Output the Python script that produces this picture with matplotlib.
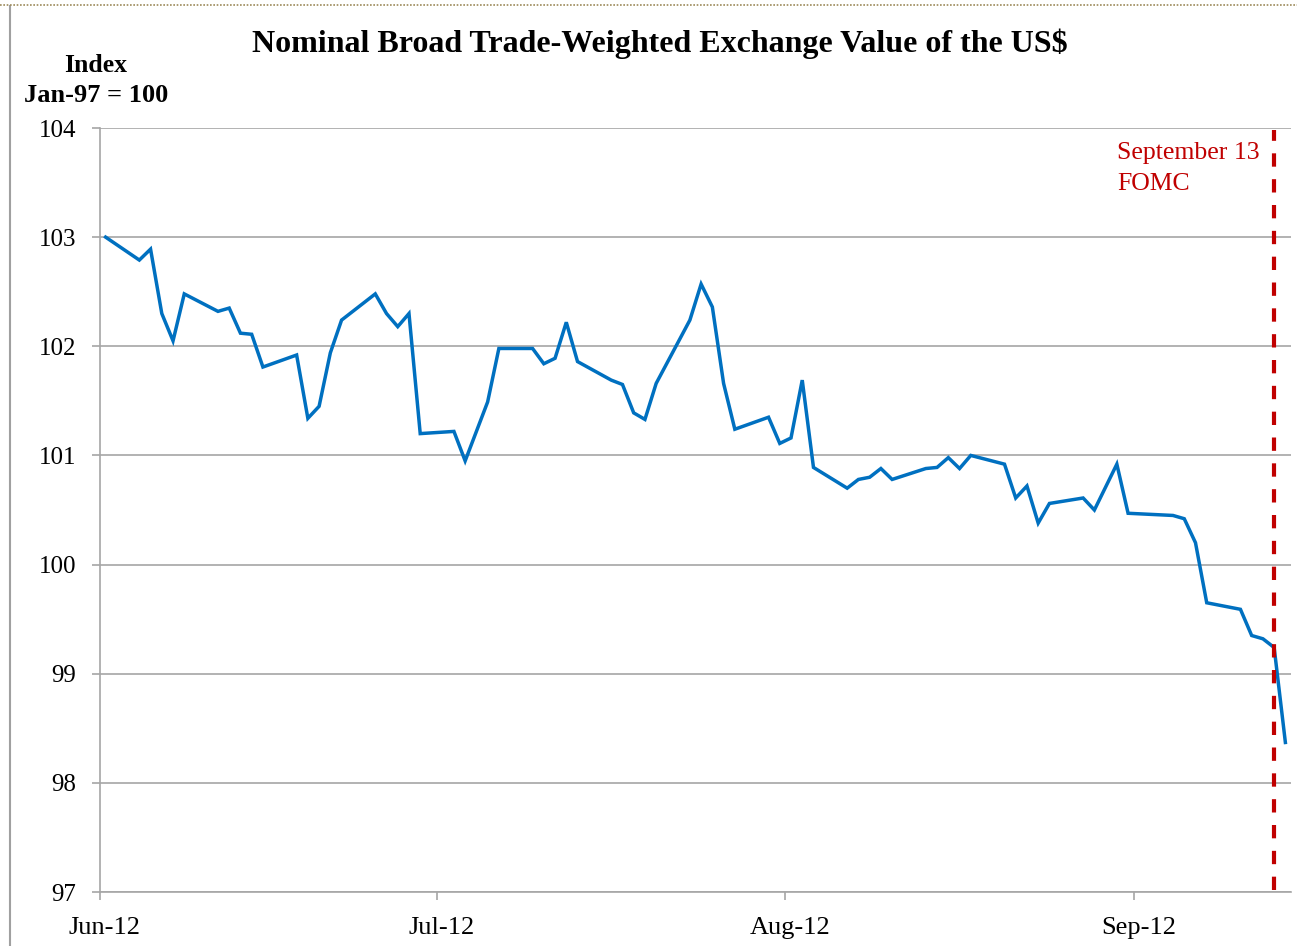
import numpy as np
import pandas as pd
import matplotlib
matplotlib.use("Agg")
from matplotlib import pyplot as plt
import matplotlib.transforms as mtransforms
from matplotlib.lines import Line2D

# business days, Jun 1 - Sep 14 2012 (Jul 4 and Sep 3 holidays left out)
datas = ["2012-06-01", "2012-06-04", "2012-06-05", "2012-06-06", "2012-06-07", "2012-06-08",
         "2012-06-11", "2012-06-12", "2012-06-13", "2012-06-14", "2012-06-15",
         "2012-06-18", "2012-06-19", "2012-06-20", "2012-06-21", "2012-06-22",
         "2012-06-25", "2012-06-26", "2012-06-27", "2012-06-28", "2012-06-29",
         "2012-07-02", "2012-07-03", "2012-07-05", "2012-07-06",
         "2012-07-09", "2012-07-10", "2012-07-11", "2012-07-12", "2012-07-13",
         "2012-07-16", "2012-07-17", "2012-07-18", "2012-07-19", "2012-07-20",
         "2012-07-23", "2012-07-24", "2012-07-25", "2012-07-26", "2012-07-27",
         "2012-07-30", "2012-07-31", "2012-08-01", "2012-08-02", "2012-08-03",
         "2012-08-06", "2012-08-07", "2012-08-08", "2012-08-09", "2012-08-10",
         "2012-08-13", "2012-08-14", "2012-08-15", "2012-08-16", "2012-08-17",
         "2012-08-20", "2012-08-21", "2012-08-22", "2012-08-23", "2012-08-24",
         "2012-08-27", "2012-08-28", "2012-08-29", "2012-08-30", "2012-08-31",
         "2012-09-04", "2012-09-05", "2012-09-06", "2012-09-07",
         "2012-09-10", "2012-09-11", "2012-09-12", "2012-09-13", "2012-09-14"]

indice = [103.00, 102.79, 102.89, 102.30, 102.05, 102.48,
          102.32, 102.35, 102.12, 102.11, 101.81,
          101.92, 101.34, 101.45, 101.94, 102.24,
          102.48, 102.30, 102.18, 102.30, 101.20,
          101.22, 100.95, 101.49, 101.98,
          101.98, 101.84, 101.89, 102.22, 101.86,
          101.69, 101.65, 101.39, 101.33, 101.66,
          102.24, 102.57, 102.36, 101.66, 101.24,
          101.35, 101.11, 101.16, 101.69, 100.89,
          100.70, 100.78, 100.80, 100.88, 100.78,
          100.88, 100.89, 100.98, 100.88, 101.00,
          100.92, 100.61, 100.72, 100.38, 100.56,
          100.61, 100.50, 100.71, 100.92, 100.47,
          100.45, 100.42, 100.20, 99.65,
          99.59, 99.35, 99.32, 99.24, 98.37]

meses = ["2012-06-01", "2012-07-01", "2012-08-01", "2012-09-01"]
rotulos_x = ["Jun-12", "Jul-12", "Aug-12", "Sep-12"]
y_ticks = [97, 98, 99, 100, 101, 102, 103, 104]
fomc = "2012-09-13"

# each day is a slot on the date axis; points sit in the middle of their slot
meio_dia = pd.Timedelta(hours=12)
datas = pd.to_datetime(datas) + meio_dia
meses = pd.to_datetime(meses)

plt.rcParams['font.family'] = ['Liberation Serif', 'DejaVu Serif']

fig = plt.figure(figsize=(12.97, 9.46), dpi=100)
ax = fig.add_axes([100 / 1297, 1 - 892 / 946, (1291 - 100) / 1297, (892 - 128) / 946])

ax.plot(datas, indice, color="#0070C0", lw=2.5, solid_joinstyle="miter", zorder=3, clip_on=False)
ax.axvline(pd.Timestamp(fomc) + meio_dia, ymin=0.003, ymax=0.997, color="#C00000", lw=3,
           dashes=(3.2, 3.0), zorder=4)

ax.set_xlim(pd.Timestamp("2012-06-01"), pd.Timestamp("2012-09-15"))
ax.set_ylim(97, 104)
ax.set_yticks(y_ticks)
ax.set_yticklabels([str(v) for v in y_ticks])
ax.set_xticks(meses)
ax.set_xticklabels(rotulos_x)
ax.grid(axis="y", color="#A6A6A6", lw=1.2)
ax.set_axisbelow(True)

for s in ["top", "right"]:
    ax.spines[s].set_visible(False)
for s in ["left", "bottom"]:
    ax.spines[s].set_color("#A6A6A6")
    ax.spines[s].set_linewidth(1.2)
ax.tick_params(axis="both", colors="#A6A6A6", labelcolor="black",
               length=6, width=1.2, direction="out")
ax.tick_params(axis="x", pad=12, labelsize=19)
ax.tick_params(axis="y", pad=11, labelsize=18)

desloc = mtransforms.ScaledTranslation(5 / 100, 0, fig.dpi_scale_trans)
for lbl in ax.get_xticklabels():
    lbl.set_transform(lbl.get_transform() + desloc)

fig.text(660 / 1297, 1 - 44 / 946, "Nominal Broad Trade-Weighted Exchange Value of the US$",
         ha="center", va="center", fontsize=23, fontweight="bold")
fig.text(96 / 1297, 1 - 65 / 946, "Index", ha="center", va="center", fontsize=18.5, fontweight="bold")
fig.text(96 / 1297, 1 - 96 / 946, "Jan-97 = 100", ha="center", va="center", fontsize=19, fontweight="bold")
fig.text(1117 / 1297, 1 - 153 / 946, "September 13", ha="left", va="center", fontsize=18.5, color="#C00000")
fig.text(1117 / 1297, 1 - 184 / 946, "FOMC", ha="left", va="center", fontsize=18.5, color="#C00000")

# moldura
fig.add_artist(Line2D([10 / 1297, 10 / 1297], [0, 1 - 6 / 946], transform=fig.transFigure,
                      color="#A0A0A0", lw=1.5))
fig.add_artist(Line2D([0, 1], [1 - 5 / 946, 1 - 5 / 946], transform=fig.transFigure,
                      color="#9C8A5A", lw=1.2, ls=(0, (1, 1))))

fig.savefig("out.png", dpi=100)
